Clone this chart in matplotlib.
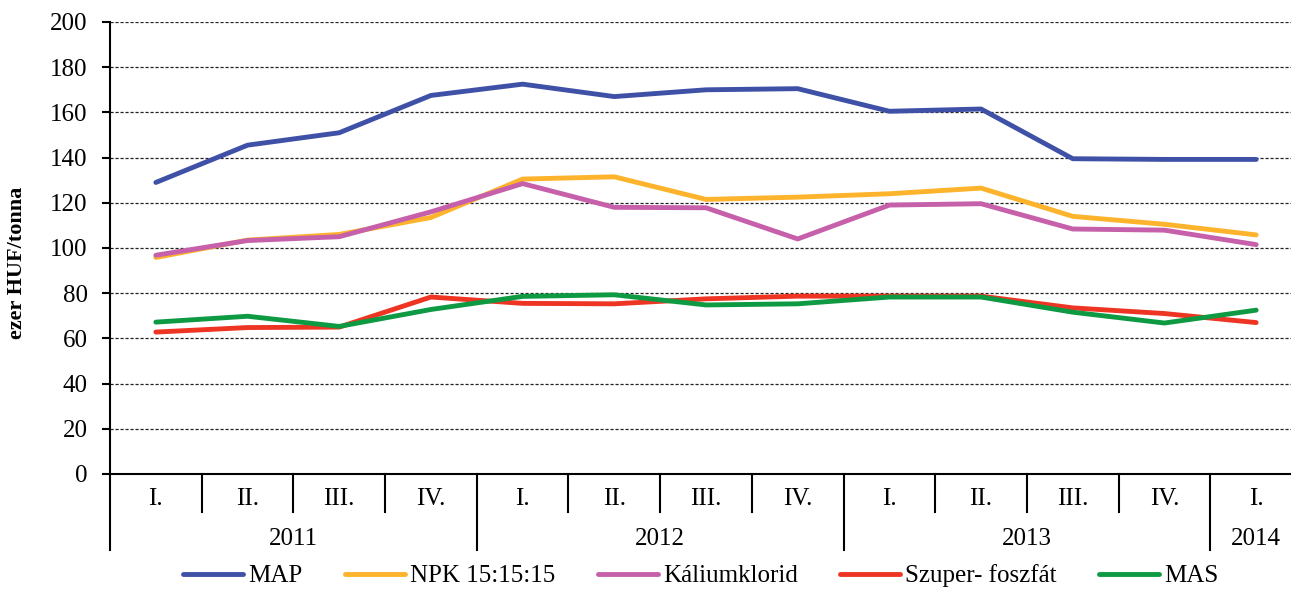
import matplotlib
matplotlib.use("Agg")
import matplotlib.pyplot as plt
import numpy as np

quarters = ["I.", "II.", "III.", "IV.", "I.", "II.", "III.", "IV.", "I.", "II.", "III.", "IV.", "I."]
years = ["2011", "2012", "2013", "2014"]
year_counts = [4, 4, 4, 1]

map_vals = [129, 145.5, 151, 167.5, 172.5, 167, 170, 170.5, 160.5, 161.5, 139.5, 139.2, 139.2]
npk_vals = [95.8, 103.5, 106, 113.5, 130.5, 131.5, 121.5, 122.5, 124, 126.5, 114, 110.5, 105.8]
kal_vals = [96.8, 103.3, 105, 116, 128.5, 118, 117.8, 104, 119, 119.6, 108.4, 107.9, 101.5]
szu_vals = [62.8, 64.8, 65, 78.3, 75.5, 75.3, 77.5, 78.7, 78.7, 78.7, 73.5, 71, 67]
mas_vals = [67.2, 69.8, 65.3, 72.8, 78.6, 79.3, 74.8, 75.3, 78.3, 78.3, 71.6, 66.8, 72.5]

series = [
    ("MAP", map_vals, "#3F51A6"),
    ("NPK 15:15:15", npk_vals, "#FDB32B"),
    ("Káliumklorid", kal_vals, "#C660AA"),
    ("Szuper- foszfát", szu_vals, "#EE3524"),
    ("MAS", mas_vals, "#0E9A43"),
]

plt.rcParams['font.family'] = ['Liberation Serif', 'DejaVu Serif']
FS = 18

fig = plt.figure(figsize=(12.91, 5.89), dpi=100)
ax = fig.add_axes([110/1291, 1-474/589, (1302-110)/1291, (474-22)/589])

x = np.arange(len(quarters))
for name, vals, col in series:
    ax.plot(x, vals, color=col, lw=3.5, label=name, solid_capstyle='round', solid_joinstyle='round')

ax.set_xlim(-0.5, len(quarters) - 0.5)
ax.set_ylim(0, 200)
ax.set_yticks(np.arange(0, 201, 20))
ax.tick_params(axis='y', labelsize=FS, length=6, width=1.5, direction='out', pad=10)
ax.yaxis.grid(True, linestyle=(0, (2.5, 1.5)), color='#222222', lw=0.9)
ax.set_axisbelow(True)
for s in ['top', 'right']:
    ax.spines[s].set_visible(False)
ax.spines['left'].set_linewidth(1.5)
ax.spines['bottom'].set_linewidth(1.5)
ax.spines['bottom'].set_zorder(5)

ax.set_xticks([])
trans = ax.get_xaxis_transform()
ah = 452.0
q_len = 38 / ah
y_len = 76 / ah
year_bounds = np.cumsum([0] + year_counts) - 0.5
for i, q in enumerate(quarters):
    ax.text(i, -31 / ah, q, transform=trans, ha='center', va='baseline', fontsize=FS)
for b in np.arange(len(quarters) + 1) - 0.5:
    if b in year_bounds:
        continue
    ax.plot([b, b], [0, -q_len], transform=trans, color='black', lw=1.5, clip_on=False)
for b in year_bounds[:-1]:
    ax.plot([b, b], [0, -y_len], transform=trans, color='black', lw=1.5, clip_on=False)
for k, yr in enumerate(years):
    c = (year_bounds[k] + year_bounds[k + 1]) / 2
    ax.text(c, -71 / ah, yr, transform=trans, ha='center', va='baseline', fontsize=FS)

ax.set_ylabel("ezer HUF/tonna", fontsize=16, fontweight='bold')
ax.yaxis.set_label_coords((27 - 110) / 1192, (474 - 263) / 452)

handles, labels = ax.get_legend_handles_labels()
fig.legend(handles, labels, loc='center', bbox_to_anchor=(701/1291, 1 - 576/589), ncol=5,
           frameon=False, fontsize=FS, handlelength=2.4, handletextpad=0.2, columnspacing=1.7,
           borderaxespad=0, borderpad=0)

fig.savefig("out.png", dpi=100)
